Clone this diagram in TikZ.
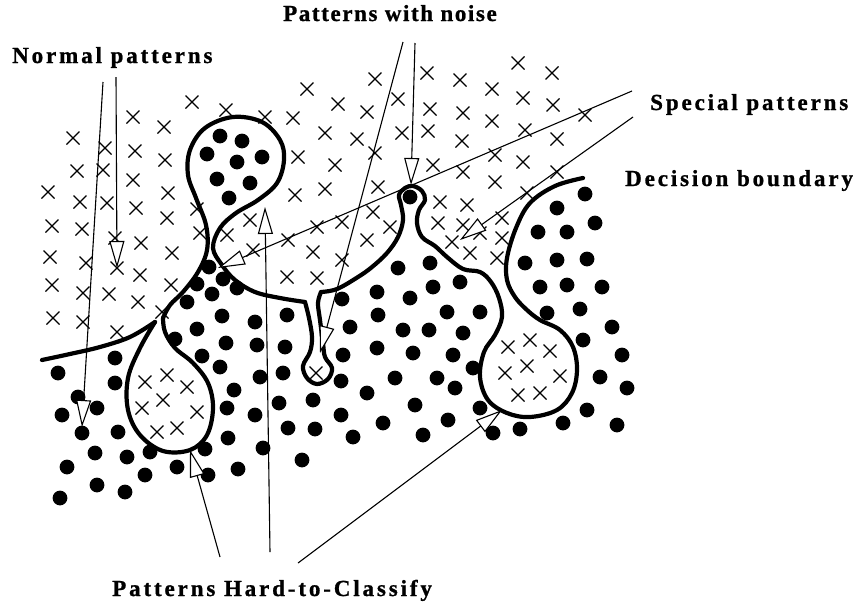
\documentclass[tikz,border=0pt]{standalone}
\usepackage{fontspec}
\setmainfont{Liberation Serif}
\newfontfamily\lblfont[LetterSpace=12.5,FakeBold=1]{Liberation Serif Bold}
\newfontfamily\lblnarrow[LetterSpace=7,FakeBold=1]{Liberation Serif Bold}
\usetikzlibrary{arrows.meta}
\begin{document}
\begin{tikzpicture}[x=1pt,y=-1pt,
  boundary/.style={line width=4.2pt,line join=round,line cap=round},
  xm/.style={line width=1.3pt},
  ptr/.style={line width=1.1pt,-{Triangle[length=27pt,width=15pt,fill=white]}},
  lbl/.style={font={\lblfont\fontsize{23pt}{26pt}\selectfont},anchor=base west,inner sep=0pt},
  lbln/.style={lbl,font={\lblnarrow\fontsize{23pt}{26pt}\selectfont}}]
\useasboundingbox (0,0) rectangle (860,606);
\fill[white] (0,0) rectangle (860,606);

% crosses
\foreach \x/\y in {73/138,105/148,135/151,133/117,164/127,165/160,
  77/171,103/170,133/180,168/193,
  48/192,80/202,107/203,136/208,167/218,197/209,
  52/226,82/229,115/238,141/243,172/253,200/233,227/235,250/220,
  50/257,86/263,117/268,140/275,171/285,
  52/285,83/293,109/294,138/302,162/312,
  53/318,83/322,117/332,
  192/102,226/110,265/117,293/118,307/89,338/104,375/79,367/112,398/99,427/73,430/109,
  325/133,357/139,402/133,428/131,
  298/157,335/165,375/153,433/165,
  295/195,325/189,378/187,373/212,342/222,317/227,288/240,253/250,313/252,342/260,367/240,390/227,287/277,317/278,440/202,438/223,
  518/63,552/73,460/80,492/89,523/98,553/105,463/113,492/121,585/115,525/130,557/139,462/141,495/155,523/162,557/172,463/172,495/182,527/193,467/205,463/225,502/218,452/242,480/233,502/238,470/253,497/258,
  145/382,167/375,187/387,142/408,163/400,197/412,157/432,177/428,
  316/373,
  508/347,530/340,550/351,505/373,527/366,560/376,518/395,540/393}
  \draw[xm] (\x,\y) +(-6.5pt,-6.5pt) -- +(6.5pt,6.5pt) +(-6.5pt,6.5pt) -- +(6.5pt,-6.5pt);

% dots
\foreach \x/\y in {220/136,242/141,207/154,237/162,262/157,217/179,250/183,229/198,
  209/267,197/284,223/279,212/294,237/288,
  58/373,78/397,62/415,97/408,82/433,118/432,95/453,127/457,67/467,150/452,97/485,125/492,60/498,145/475,177/467,115/358,115/383,
  187/302,222/316,197/329,175/339,226/343,202/356,220/367,234/390,227/408,228/438,205/449,208/475,238/469,
  255/322,257/345,260/377,255/415,263/448,
  287/315,285/347,283/373,279/403,288/428,302/460,313/400,315/429,
  342/299,350/327,343/355,341/381,341/415,353/437,
  367/393,377/292,378/315,377/348,395/378,383/423,
  398/268,410/298,403/330,413/353,415/405,423/435,
  430/263,433/287,429/330,437/378,447/312,448/420,
  460/282,480/312,463/333,453/355,473/368,455/388,480/408,493/433,520/429,563/423,587/410,617/425,
  525/263,557/260,587/259,540/287,567/285,602/287,547/313,580/309,612/327,583/340,622/355,600/377,627/388,
  585/194,557/208,595/223,538/232,567/232,
  410/197}
  \fill (\x,\y) circle[radius=7.4pt];

% decision boundary
\draw[boundary] plot[smooth,tension=0.6] coordinates {(42,360) (70,354) (100,347) (130,337) (155,322)};
\draw[boundary] plot[smooth,tension=0.6] coordinates {(155,322) (140,348) (128,378) (128,410) (140,435) (163,451) (190,450) (207,435) (213,408) (208,383) (193,363) (175,348) (165,332) (163,318)};
\draw[boundary] plot[smooth,tension=0.6] coordinates {(163,318) (170,305) (183,292) (198,272) (207,250) (206,225) (196,198) (188,175) (190,150) (205,128) (233,117) (262,122) (280,140) (284,160) (277,183) (258,200) (236,213) (220,228) (213,248) (222,265) (235,280) (255,292) (280,298) (305,302)};
\draw[boundary] plot[smooth,tension=0.6] coordinates {(305,302) (309,318) (312,337) (310,352) (303,366) (307,378) (317,384) (328,379) (332,368) (325,357) (323,343) (320,320) (318,303) (321,292)};
\draw[boundary] plot[smooth,tension=0.6] coordinates {(321,292) (337,289) (358,277) (372,267) (387,253) (398,237) (403,220) (401,205) (399,195) (405,188) (413,186) (422,191) (425,200) (419,210) (417,223) (422,237) (435,246) (447,257) (463,269) (480,272) (491,282) (499,298) (502,317) (495,335) (484,352) (480,377) (488,400) (507,413) (530,417) (557,410) (572,393) (577,370) (573,347) (560,330) (540,320) (527,310) (515,297) (507,280) (507,258) (516,228) (530,203) (555,186) (583,178)};

% labels
\node[lbl] (normal) at (12,63) {Normal patterns};
\node[lbln] (noise) at (283,21) {Patterns with noise};
\node[lbl] (special) at (650,110) {Special patterns};
\node[lbl] (decision) at (625,186) {Decision boundary};
\node[lbl] (hard) at (112,596) {Patterns Hard-to-Classify};

% connector endpoints
\coordinate (n1s) at (103,82);  \coordinate (n1e) at (82,427);
\coordinate (n2s) at (116,77);  \coordinate (n2e) at (117,268);
\coordinate (w1s) at (403,42);  \coordinate (w1e) at (320,353);
\coordinate (w2s) at (415,43);  \coordinate (w2e) at (411,185);
\coordinate (s1s) at (632,91);  \coordinate (s1e) at (218,268);
\coordinate (s2s) at (633,117); \coordinate (s2e) at (460,240);
\coordinate (h1s) at (220,557); \coordinate (h1e) at (190,450);
\coordinate (h2s) at (270,552); \coordinate (h2e) at (265,207);
\coordinate (h3s) at (298,563); \coordinate (h3e) at (502,410);

\foreach \a in {n1,n2,w1,w2,s1,s2,h1,h2,h3}
  \draw[ptr] (\a s) -- (\a e);
\end{tikzpicture}
\end{document}
